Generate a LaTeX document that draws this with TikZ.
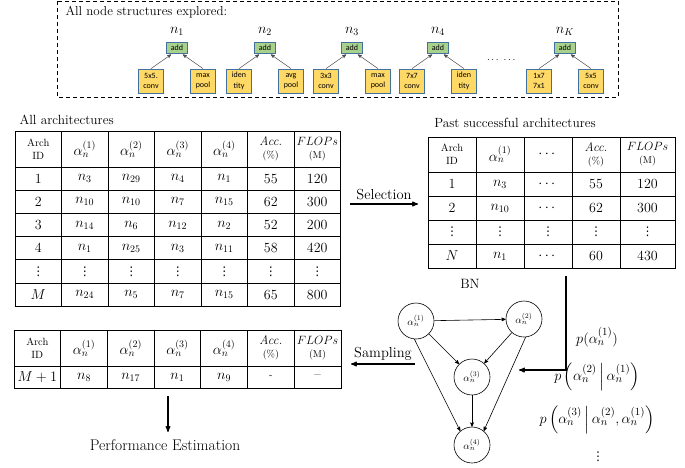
\documentclass[tikz,border=0pt]{standalone}
\usepackage{amsmath,amssymb}
\usepackage{fontspec}
\newfontfamily\boxfont{Carlito}
\newfontfamily\symfont{DejaVu Sans}
\usetikzlibrary{arrows}
\usetikzlibrary{calc}
\definecolor{addgreen}{HTML}{A9D18E}
\definecolor{opyellow}{HTML}{FFD966}
\definecolor{boxblue}{HTML}{41719C}
\newcommand{\hdr}{\fontsize{10.5}{11.5}\selectfont}
\newcommand{\unitfont}{\fontsize{10}{11}\selectfont}
\newcommand{\accfont}{\fontsize{12.5}{13}\selectfont\itshape}
\newcommand{\flops}{{\fontsize{11.5}{12}\selectfont$FLOPs$}}
\newcommand{\vd}{{\symfont\fontsize{12}{12}\selectfont ⋮}}

\begin{document}
\begin{tikzpicture}[x=1pt, y=-1pt,
      flow/.style={line width=1.1pt, ->, >=stealth'},
      edge/.style={line width=0.6pt, ->, >=stealth'},
      thin arrow/.style={->, >=stealth', line width=0.5pt, gray!60!black, shorten >=1pt},
      addbox/.style={draw=boxblue, fill=addgreen, line width=0.8pt, minimum width=21pt,
        minimum height=11pt, inner sep=0pt, font=\boxfont\fontsize{8}{8}\selectfont},
      opbox/.style={draw=boxblue, fill=opyellow, line width=0.8pt, minimum width=25pt,
        minimum height=24pt, inner sep=0pt, align=center,
        font=\boxfont\fontsize{8}{10.5}\selectfont},
      bn/.style={draw, circle, line width=0.6pt, minimum size=36pt, inner sep=0pt,
        font=\fontsize{10}{11}\selectfont},
      gridline/.style={line width=0.8pt},
      cell/.style={inner sep=0pt, align=center, font=\fontsize{14}{13}\selectfont},
      label text/.style={font=\fontsize{14.5}{16}\selectfont},
      every node/.style={color=black}
      ]
      \useasboundingbox (0,0) rectangle (685,467);

      % node structures
      \draw[dashed, line width=0.8pt, dash pattern=on 4pt off 3pt] (57,1) rectangle (618,97);
      \node[anchor=west, font=\fontsize{13}{15}\selectfont] (explored) at (62,12) {All node structures explored:};
      \foreach \x/\k/\ka/\kb in {177/1/{5x5.\\conv}/{max\\pool}, 265/2/{iden\\tity}/{avg\\pool},
          352/3/{3x3\\conv}/{max\\pool}, 438/4/{7x7\\conv}/{iden\\tity}, 565/K/{1x7\\7x1}/{5x5\\conv}} {
        \node[font=\fontsize{14}{16}\selectfont] (lab\k) at (\x,31) {$n_\k$};
        \node[addbox] (add\k) at (\x,48) {add};
        \node[opbox] (opa\k) at (\x-26,81) {\ka};
        \node[opbox] (opb\k) at (\x+26,81) {\kb};
        \draw[thin arrow] (opa\k.north) -- ([xshift=-5pt]add\k.south);
        \draw[thin arrow] (opb\k.north) -- ([xshift=5pt]add\k.south);
      }
      \node (more) at (502,60) {$\cdots\ \cdots$};

      % all architectures
      \node[anchor=west, font=\fontsize{13.3}{15}\selectfont] (allTitle) at (16,120) {All architectures};
      \draw[gridline] (15,131) rectangle (340.5,306.2);
      \foreach \ci in {1,...,6} \draw[gridline] (15+46.5*\ci,131) -- (15+46.5*\ci,306.2);
      \foreach \ri in {0,...,5} \draw[gridline] (15,167+23.2*\ri) -- (340.5,167+23.2*\ri);
      \foreach \t [count=\ci] in {{{\hdr Arch}\\{\hdr ID}}, $\alpha_n^{(1)}$, $\alpha_n^{(2)}$,
          $\alpha_n^{(3)}$, $\alpha_n^{(4)}$, {{\accfont Acc.}\\{\unitfont(\%)}}, {\flops\\{\unitfont(M)}}}
        \node[cell] (tA-0-\ci) at (15+46.5*\ci-23.25,149) {\t};
      \foreach \row [count=\ri] in {{1,$n_3$,$n_{29}$,$n_4$,$n_1$,55,120},
          {2,$n_{10}$,$n_{10}$,$n_7$,$n_{15}$,62,300},
          {3,$n_{14}$,$n_6$,$n_{12}$,$n_2$,52,200},
          {4,$n_1$,$n_{25}$,$n_3$,$n_{11}$,58,420},
          {\vd,\vd,\vd,\vd,\vd,\vd,\vd},
          {$M$,$n_{24}$,$n_5$,$n_7$,$n_{15}$,65,800}}
        \foreach \t [count=\ci] in \row
          \node[cell] (tA-\ri-\ci) at (15+46.5*\ci-23.25,155.4+23.2*\ri) {\t};

      % past successful architectures
      \node[font=\fontsize{13.3}{15}\selectfont] (pastTitle) at (515,123) {Past successful architectures};
      \draw[gridline] (428,137) rectangle (675,268);
      \foreach \ci in {476,524,572,620} \draw[gridline] (\ci,137) -- (\ci,268);
      \foreach \ri in {172,196,220,244} \draw[gridline] (428,\ri) -- (675,\ri);
      \foreach \t [count=\ci] in {{{\hdr Arch}\\{\hdr ID}}, $\alpha_n^{(1)}$, $\cdots$,
          {{\accfont Acc.}\\{\unitfont(\%)}}, {\flops\\{\unitfont(M)}}} {
        \pgfmathsetmacro{\cx}{\ci<5 ? 404+48*\ci : 647.5}
        \node[cell] (tB-0-\ci) at (\cx,154.5) {\t};
      }
      \foreach \row [count=\ri] in {{1,$n_3$,$\cdots$,55,120},
          {2,$n_{10}$,$\cdots$,62,300},
          {\vd,\vd,\vd,\vd,\vd},
          {$N$,$n_1$,$\cdots$,60,430}}
        \foreach \t [count=\ci] in \row {
          \pgfmathsetmacro{\cx}{\ci<5 ? 404+48*\ci : 647.5}
          \node[cell] (tB-\ri-\ci) at (\cx,160+24*\ri) {\t};
        }

      \coordinate (selA) at (350,204);
      \coordinate (selB) at (418,204);
      \draw[flow] (selA) -- node[above, label text] (selLab) {Selection} (selB);

      % sampled architecture
      \draw[gridline] (14,330) rectangle (340.9,388);
      \foreach \ci in {1,...,6} \draw[gridline] (14+46.7*\ci,330) -- (14+46.7*\ci,388);
      \draw[gridline] (14,366) -- (340.9,366);
      \foreach \t [count=\ci] in {{{\hdr Arch}\\{\hdr ID}}, $\alpha_n^{(1)}$, $\alpha_n^{(2)}$,
          $\alpha_n^{(3)}$, $\alpha_n^{(4)}$, {{\accfont Acc.}\\{\unitfont(\%)}}, {\flops\\{\unitfont(M)}}}
        \node[cell] (tC-0-\ci) at (14+46.7*\ci-23.35,348) {\t};
      \foreach \t [count=\ci] in {$M+1$, $n_8$, $n_{17}$, $n_1$, $n_9$, {\hdr -}, --}
        \node[cell] (tC-1-\ci) at (14+46.7*\ci-23.35,377) {\t};

      \node[font=\fontsize{15.5}{17}\selectfont] (perf) at (165,445) {Performance Estimation};
      \coordinate (estTop) at (168,396);
      \draw[flow, shorten >=4pt] (estTop) -- (estTop |- perf.north);

      % BN
      \node[font=\fontsize{13.5}{15}\selectfont] (bnLab) at (470,284) {BN};
      \node[bn] (a1) at (416,321) {$\alpha_n^{(1)}$};
      \node[bn] (a2) at (524,319) {$\alpha_n^{(2)}$};
      \node[bn] (a3) at (472,377) {$\alpha_n^{(3)}$};
      \node[bn] (a4) at (472,445) {$\alpha_n^{(4)}$};
      \draw[edge] (a1) -- (a2);
      \draw[edge] (a1) -- (a3);
      \draw[edge] (a2) -- (a3);
      \draw[edge] (a3) -- (a4);
      \draw[edge] (a1.265) -- (a4.130);
      \draw[edge] (a2.275) -- (a4.50);

      \coordinate (drop) at (566,276);
      \coordinate (pick) at (519,370);
      \draw[flow] (drop) |- (pick);

      \coordinate (sampA) at (415,364);
      \coordinate (sampB) at (351,364);
      \draw[flow] (sampA) -- node[above, label text] (sampLab) {Sampling} (sampB);

      % factors
      \node[font=\fontsize{15.5}{17}\selectfont] (pOne) at (597,337) {$p(\alpha_n^{(1)})$};
      \node[font=\fontsize{15.5}{17}\selectfont] (pTwo) at (597,377) {$p\left(\alpha_n^{(2)}\,\middle|\,\alpha_n^{(1)}\right)$};
      \node[font=\fontsize{15.5}{17}\selectfont] (pThree) at (597,420) {$p\left(\alpha_n^{(3)}\,\middle|\,\alpha_n^{(2)},\alpha_n^{(1)}\right)$};
      \node (pMore) at (598,457) {\vd};
    \end{tikzpicture}
\end{document}
